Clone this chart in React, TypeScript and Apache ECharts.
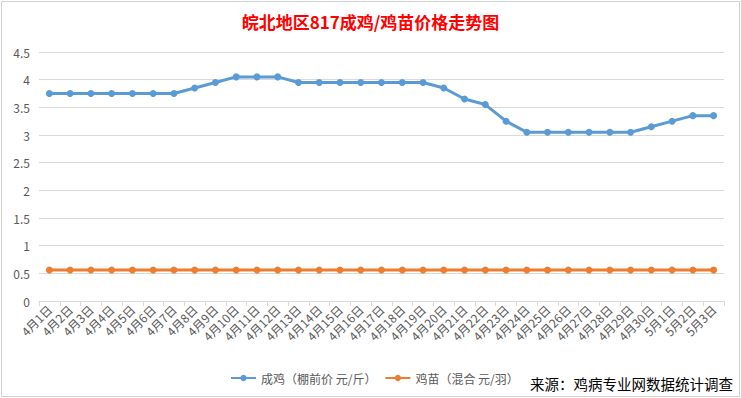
import React, { useEffect, useRef } from "react";
import * as echarts from "echarts";

const categories = [
  "4月1日", "4月2日", "4月3日", "4月4日", "4月5日", "4月6日", "4月7日", "4月8日", "4月9日", "4月10日",
  "4月11日", "4月12日", "4月13日", "4月14日", "4月15日", "4月16日", "4月17日", "4月18日", "4月19日", "4月20日",
  "4月21日", "4月22日", "4月23日", "4月24日", "4月25日", "4月26日", "4月27日", "4月28日", "4月29日", "4月30日",
  "5月1日", "5月2日", "5月3日",
];

const adultChicken = [
  3.75, 3.75, 3.75, 3.75, 3.75, 3.75, 3.75, 3.85, 3.95, 4.05,
  4.05, 4.05, 3.95, 3.95, 3.95, 3.95, 3.95, 3.95, 3.95, 3.85,
  3.65, 3.55, 3.25, 3.05, 3.05, 3.05, 3.05, 3.05, 3.05, 3.15,
  3.25, 3.35, 3.35,
];

const chicks = [
  0.56, 0.56, 0.56, 0.56, 0.56, 0.56, 0.56, 0.56, 0.56, 0.56,
  0.56, 0.56, 0.56, 0.56, 0.56, 0.56, 0.56, 0.56, 0.56, 0.56,
  0.56, 0.56, 0.56, 0.56, 0.56, 0.56, 0.56, 0.56, 0.56, 0.56,
  0.56, 0.56, 0.56,
];

const seriesNames = ["成鸡（棚前价 元/斤）", "鸡苗（混合 元/羽）"];
const titleText = "皖北地区817成鸡/鸡苗价格走势图";
const sourceText = "来源：鸡病专业网数据统计调查";

export default function App() {
  const ref = useRef<HTMLDivElement>(null);
  useEffect(() => {
    if (!ref.current) return;
    const chart = echarts.init(ref.current, null, { renderer: "svg" });
    const font = "'Noto Sans CJK SC', 'Noto Sans', sans-serif";
    chart.setOption({
      animation: false,
      backgroundColor: "#ffffff",
      textStyle: { fontFamily: font },
      title: {
        text: titleText,
        left: "center",
        top: 8,
        textStyle: { color: "#ff0000", fontSize: 17, fontWeight: "bold", fontFamily: font },
      },
      legend: {
        bottom: 9,
        left: 225,
        itemWidth: 25,
        itemHeight: 8,
        itemGap: 8,
        textStyle: { color: "#595959", fontSize: 12, fontFamily: font },
        data: seriesNames,
      },
      grid: { left: 39, right: 17, top: 52, bottom: 97, containLabel: false },
      xAxis: {
        type: "category",
        data: categories,
        boundaryGap: true,
        axisLine: { lineStyle: { color: "#d9d9d9" } },
        axisTick: { show: true, length: 5, lineStyle: { color: "#d9d9d9" } },
        axisLabel: { rotate: 45, color: "#595959", fontSize: 12, margin: 6, interval: 0, fontFamily: font },
      },
      yAxis: {
        type: "value",
        min: 0,
        max: 4.5,
        interval: 0.5,
        axisLine: { show: false },
        axisTick: { show: false },
        axisLabel: { color: "#595959", fontSize: 12, margin: 9, fontFamily: font },
        splitLine: { lineStyle: { color: "#d9d9d9" } },
      },
      series: [
        {
          name: seriesNames[0],
          type: "line",
          data: adultChicken,
          symbol: "circle",
          symbolSize: 7,
          lineStyle: { width: 3, color: "#5b9bd5" },
          itemStyle: { color: "#5b9bd5" },
        },
        {
          name: seriesNames[1],
          type: "line",
          data: chicks,
          symbol: "circle",
          symbolSize: 7,
          lineStyle: { width: 3, color: "#ed7d31" },
          itemStyle: { color: "#ed7d31" },
        },
      ],
      graphic: [
        {
          type: "rect",
          shape: { x: 1.5, y: 1.5, width: 738, height: 395 },
          style: { fill: "none", stroke: "#d0d0d0", lineWidth: 1 },
          silent: true,
        },
        {
          type: "text",
          right: 8,
          bottom: 7,
          style: { text: sourceText, fill: "#000000", fontSize: 14.5, fontFamily: font },
        },
      ],
    });
    return () => chart.dispose();
  }, []);
  return (
    <div
      ref={ref}
      style={{ position: "fixed", left: 0, top: 0, width: 741, height: 398 }}
    />
  );
}
